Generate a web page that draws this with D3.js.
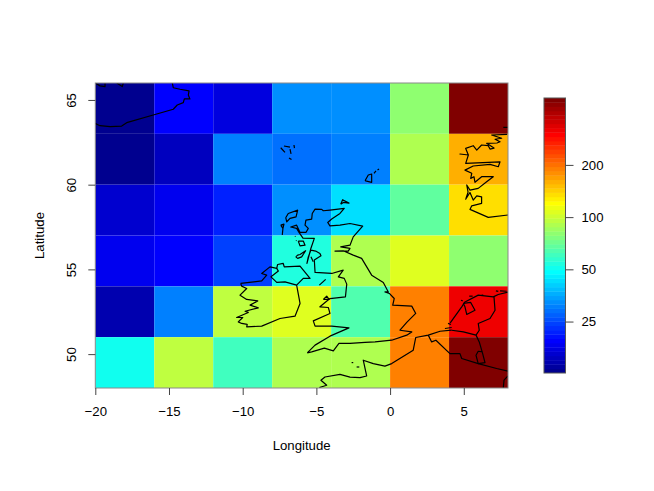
<!DOCTYPE html>
<html>
<head>
<meta charset="utf-8">
<script src="https://cdnjs.cloudflare.com/ajax/libs/d3/7.8.5/d3.min.js"></script>
<style>
  html, body { margin: 0; padding: 0; background: #fff; }
  text { font-family: "Liberation Sans", Arial, sans-serif; font-size: 13.2px; fill: #000; }
</style>
</head>
<body>
<div id="app"></div>
<script>
// grid cell lower-left corners
const lonCells = [-20, -16, -12, -8, -4, 0, 4];
const latCells = [63, 60, 57, 54, 51, 48];

// one row per latCells entry, north to south
const row63 = [13.0, 19.4, 17.3, 32.4, 32.4, 80.6, 473];
const row60 = [13.0, 15.4, 30.6, 28.9, 30.6, 90.4, 160];
const row57 = [16.3, 18.3, 21.7, 32.4, 43.0, 68.0, 135];
const row54 = [18.3, 19.4, 24.3, 54.1, 90.4, 107, 80.6];
const row51 = [14.6, 30.6, 95.7, 107, 64.2, 190, 316];
const row48 = [51.1, 95.7, 60.6, 90.4, 90.4, 190, 473];
const rows = [row63, row60, row57, row54, row51, row48];

const xTicks = [-20, -15, -10, -5, 0, 5];
const yTicks = [50, 55, 60, 65];
const legendTicks = [25, 50, 100, 200];
const zRange = [12.63, 486];

// coastlines, [lon, lat]
const iceland = [[-20.02,63.62],[-19.68,63.48],[-19.0,63.42],[-18.21,63.46],[-17.87,63.66],[-16.07,64.11],[-14.71,64.45],[-14.44,64.70],[-14.03,64.84],[-13.96,65.06],[-13.58,65.06],[-13.69,65.29],[-13.64,65.53],[-14.25,65.63],[-14.71,65.72],[-14.78,66.02]];
const icelandTop1 = [[-20.0,66],[-19.68,65.83],[-19.34,65.79],[-19.34,66]];
const icelandTop2 = [[-18.55,66],[-18.17,65.79],[-18.1,66]];
const faroe1 = [[-7.42,62.18],[-7.13,61.91]];
const faroe2 = [[-7.2,62.28],[-6.79,62.22]];
const faroe3 = [[-6.79,62.10],[-6.72,61.81]];
const faroe4 = [[-6.52,62.34],[-6.49,62.16]];
const faroe5 = [[-6.86,61.57],[-6.69,61.48]];
const shetland1 = [[-1.70,60.23],[-1.48,60.57],[-1.25,60.63],[-1.25,60.14],[-1.59,60.21],[-1.70,60.23]];
const shetland2 = [[-1.09,60.67],[-0.96,60.82]];
const shetland3 = [[-0.85,60.86],[-0.75,60.92]];
const orkney = [[-3.35,58.85],[-3.22,59.11],[-2.79,58.91],[-3.17,58.95],[-3.35,58.85]];
const britain = [[-5.62,50.07],[-5.32,50.13],[-4.46,50.35],[-3.85,50.19],[-3.47,50.63],[-2.72,50.63],[-1.70,50.69],[-1.02,50.72],[0.11,50.82],[1.13,51.12],[1.47,51.31],[0.67,51.41],[1.13,51.87],[1.74,52.40],[1.47,52.83],[0.18,52.89],[0.28,53.28],[-0.05,53.58],[-0.35,53.67],[-0.12,53.67],[-0.46,54.23],[-1.25,54.66],[-1.93,55.65],[-2.50,55.84],[-3.18,56.10],[-3.74,56.08],[-2.84,56.08],[-2.72,56.24],[-3.35,56.33],[-2.72,56.43],[-2.50,56.92],[-1.86,57.55],[-2.72,57.71],[-3.40,57.61],[-4.08,57.57],[-4.23,57.77],[-3.96,57.97],[-3.40,58.30],[-3.11,58.60],[-4.08,58.50],[-4.53,58.46],[-4.64,58.54],[-5.09,58.56],[-5.28,58.30],[-5.32,57.97],[-5.71,57.91],[-5.77,57.61],[-5.55,57.42],[-5.71,57.18],[-6.11,57.18],[-6.34,57.61],[-6.74,57.50],[-6.34,57.42],[-6.18,57.18],[-5.91,56.85],[-5.14,56.83],[-5.37,56.25],[-5.64,55.35],[-5.55,55.74],[-5.37,56.14],[-5.05,56.08],[-4.76,55.94],[-4.69,55.80],[-5.14,55.55],[-5.09,54.82],[-3.96,54.76],[-3.18,54.96],[-3.51,54.56],[-3.11,54.47],[-2.94,54.13],[-3.03,53.38],[-4.08,53.28],[-4.76,52.79],[-4.19,52.75],[-4.08,52.40],[-5.21,51.96],[-5.09,51.65],[-3.96,51.65],[-2.79,51.55],[-4.08,51.06],[-5.09,50.53],[-5.62,50.07]];
const anglesey = [[-4.53,53.23],[-4.30,53.42],[-4.14,53.23],[-4.53,53.23]];
const man = [[-4.80,54.07],[-4.37,54.41]];
const arran = [[-5.37,55.74],[-5.21,55.45]];
const mull = [[-6.23,56.67],[-5.89,56.67],[-5.77,56.43],[-6.11,56.39],[-6.23,56.67]];
const islay = [[-6.40,55.74],[-6.27,55.84],[-6.11,55.88],[-5.73,56.10],[-6.00,55.74],[-6.27,55.65],[-6.40,55.74]];
const tiree = [[-6.45,56.96],[-6.42,56.93]];
const coll = [[-6.38,56.71],[-6.35,56.68]];
const lewis = [[-7.08,58.05],[-6.91,58.30],[-6.27,58.50],[-6.38,58.10],[-6.79,58.01],[-7.01,57.81],[-7.08,58.05]];
const uist = [[-7.42,57.61],[-7.20,57.67],[-7.27,57.42],[-7.31,57.06],[-7.27,57.42],[-7.42,57.61]];
const ireland = [[-10.14,54.17],[-8.71,54.32],[-8.37,54.66],[-8.71,54.76],[-8.15,55.15],[-7.69,55.06],[-7.63,55.29],[-7.25,55.35],[-7.18,55.15],[-6.11,55.19],[-5.43,54.47],[-5.89,54.47],[-6.34,54.07],[-6.11,52.99],[-6.45,52.24],[-7.47,52.10],[-8.71,51.65],[-9.73,51.61],[-9.69,51.75],[-10.07,51.81],[-10.30,51.90],[-10.00,52.16],[-10.41,52.16],[-9.62,52.46],[-9.84,52.53],[-8.94,52.73],[-9.50,52.89],[-8.98,53.14],[-9.73,53.23],[-10.18,53.48],[-9.73,53.87],[-10.07,54.01],[-10.12,54.13],[-10.14,54.17]];
const ulsterBorder = [[-6.34,54.07],[-7.13,54.26],[-7.69,54.23],[-8.08,54.56],[-7.58,54.90],[-7.69,55.06]];
const franceCoast = [[-4.80,48.03],[-4.30,48.16],[-4.69,48.46],[-4.42,48.65],[-3.40,48.80],[-2.72,48.64],[-2.04,48.61],[-1.59,48.71],[-1.82,49.64],[-1.14,49.44],[-0.35,49.29],[0.11,49.44],[1.57,50.23],[1.74,50.98],[2.59,51.12],[3.39,51.35],[4.18,51.41]];
const zeeland1 = [[3.72,51.51],[4.18,51.57]];
const zeeland2 = [[3.93,51.81],[4.13,51.75]];
const hollandCoast = [[4.08,51.84],[4.86,52.79],[5.08,53.08],[5.98,53.48],[7.00,53.38],[7.34,53.52],[8.0,53.66]];
const ijsselmeer = [[4.97,52.99],[5.47,53.05],[5.76,52.59],[5.20,52.34],[5.08,52.79],[4.97,52.99]];
const belgiumNorth = [[4.18,51.41],[4.97,51.31],[5.83,51.12]];
const dutchEast = [[5.83,51.12],[6.05,51.41],[5.98,51.81],[6.78,52.10],[7.12,52.59],[7.05,53.38]];
const belgiumEast = [[5.83,51.12],[6.05,50.72],[6.28,50.03],[6.44,49.50],[5.98,49.44],[5.83,49.93],[5.98,50.17],[6.28,50.13]];
const franceNorth = [[2.59,51.12],[2.82,50.72],[3.11,50.82],[4.06,50.03],[4.74,50.03],[4.86,49.74],[5.98,49.44],[7.23,49.15],[8,48.99]];
const rhine = [[7.68,48],[7.73,48.46],[8,48.71]];
const frisian1 = [[5.37,53.42],[5.60,53.42]];
const frisian2 = [[6.21,53.48],[6.32,53.48]];
const frisian3 = [[7.18,53.73],[7.34,53.70]];
const frisian4 = [[7.46,53.73],[7.91,53.71]];
const frisian5 = [[4.81,53.18],[4.93,53.14]];
const jersey = [[-2.61,49.50],[-2.50,49.50]];
const guernsey = [[-2.27,49.24],[-2.09,49.24]];
const norway = [[7.95,62.97],[6.89,62.93],[7.57,62.74],[7.12,62.68],[7.46,62.53],[7.25,62.46],[6.55,62.44],[7.05,62.16],[6.78,62.10],[6.66,62.30],[6.21,62.34],[5.88,62.04],[5.64,62.30],[5.13,62.14],[5.31,61.75],[4.74,61.81],[5.31,61.75],[5.13,61.26],[7.46,61.35],[7.34,61.06],[6.78,61.20],[5.64,61.10],[5.08,60.86],[5.54,60.67],[5.47,60.37],[5.69,60.47],[5.76,60.14],[6.21,60.47],[7.00,60.47],[6.55,60.17],[5.98,59.78],[5.42,59.68],[5.20,59.98],[5.29,59.56],[5.13,59.15],[5.42,59.54],[5.64,59.09],[5.88,59.34],[6.21,59.28],[6.21,58.90],[5.54,58.75],[5.42,58.54],[6.66,58.07],[8.0,58.21]];
const norwayDash = [[7.68,63.38],[8.0,63.38]];

const coastlines = [iceland, icelandTop1, icelandTop2, faroe1, faroe2, faroe3, faroe4, faroe5,
  shetland1, shetland2, shetland3, orkney, britain, anglesey, man, arran, mull, islay, tiree, coll,
  lewis, uist, ireland, ulsterBorder, franceCoast, zeeland1, zeeland2, hollandCoast, ijsselmeer,
  belgiumNorth, dutchEast, belgiumEast, franceNorth, rhine, frisian1, frisian2, frisian3, frisian4,
  frisian5, jersey, guernsey, norway, norwayDash];

const width = 654, height = 491;
const plot = {left: 95.3, right: 508, top: 83, bottom: 388};
const bar = {left: 544, right: 565.5, top: 98, bottom: 373};

// tim.colors(64) from fields
const levels = 64;
const jet = d3.scaleLinear()
  .domain([0, 7, 23, 39, 55, 63])
  .range(["#00008f", "#0000ff", "#00ffff", "#ffff00", "#ff0000", "#800000"]);
const palette = d3.range(levels).map(i => jet(i));

const x = d3.scaleLinear().domain([-20, 8]).range([plot.left, plot.right]);
const y = d3.scaleLinear().domain([48, 66]).range([plot.bottom, plot.top]);
const zPos = d3.scaleLog().domain(zRange).range([0, 1]);
const color = v => palette[Math.min(levels - 1, Math.floor(zPos(v) * levels))];
const legendY = d3.scaleLog().domain(zRange).range([bar.bottom, bar.top]);

const svg = d3.select("#app").append("svg")
  .attr("width", width)
  .attr("height", height)
  .style("display", "block");

svg.append("clipPath").attr("id", "plot-clip")
  .append("rect")
  .attr("x", plot.left).attr("y", plot.top)
  .attr("width", plot.right - plot.left)
  .attr("height", plot.bottom - plot.top);

// cells
rows.forEach((row, j) => {
  svg.append("g").selectAll("rect")
    .data(row)
    .join("rect")
    .attr("x", (d, i) => x(lonCells[i]))
    .attr("y", y(latCells[j] + 3))
    .attr("width", (d, i) => x(lonCells[i] + 4) - x(lonCells[i]))
    .attr("height", y(latCells[j]) - y(latCells[j] + 3))
    .attr("fill", d => color(d));
});

// coast
const line = d3.line().x(d => x(d[0])).y(d => y(d[1]));
svg.append("g")
  .attr("clip-path", "url(#plot-clip)")
  .selectAll("path")
  .data(coastlines)
  .join("path")
  .attr("d", line)
  .attr("fill", "none")
  .attr("stroke", "#000")
  .attr("stroke-width", 1.2)
  .attr("stroke-linejoin", "round");

// box
svg.append("rect")
  .attr("x", plot.left).attr("y", plot.top)
  .attr("width", plot.right - plot.left)
  .attr("height", plot.bottom - plot.top)
  .attr("fill", "none")
  .attr("stroke", "#8a8a8a");

const xAxis = svg.append("g")
  .attr("transform", "translate(0," + plot.bottom + ")")
  .call(d3.axisBottom(x).tickValues(xTicks).tickSize(7).tickPadding(12));
xAxis.select(".domain").remove();

const yAxis = svg.append("g")
  .attr("transform", "translate(" + plot.left + ",0)")
  .call(d3.axisLeft(y).tickValues(yTicks).tickSize(7).tickFormat(d3.format("d")));
yAxis.select(".domain").remove();
yAxis.selectAll("text")
  .attr("x", 0).attr("y", 0).attr("dy", 0)
  .attr("text-anchor", "middle")
  .attr("transform", "translate(-19.5,0) rotate(-90)");

// colour bar, steps overlap a little so no seams show
const barStep = (bar.bottom - bar.top) / levels;
svg.append("g").selectAll("rect")
  .data(palette)
  .join("rect")
  .attr("x", bar.left)
  .attr("y", (d, i) => bar.bottom - (i + 1) * barStep)
  .attr("width", bar.right - bar.left)
  .attr("height", (d, i) => barStep + (i ? 0.4 : 0))
  .attr("fill", d => d);

svg.append("rect")
  .attr("x", bar.left).attr("y", bar.top)
  .attr("width", bar.right - bar.left)
  .attr("height", bar.bottom - bar.top)
  .attr("fill", "none")
  .attr("stroke", "#555");

const legendAxis = svg.append("g")
  .attr("transform", "translate(" + bar.right + ",0)")
  .call(d3.axisRight(legendY).tickValues(legendTicks).tickSize(8).tickPadding(8).tickFormat(d3.format("d")));
legendAxis.select(".domain").remove();

svg.selectAll(".tick line").attr("stroke", "#444");
svg.selectAll(".tick text")
  .style("font-family", '"Liberation Sans", Arial, sans-serif')
  .style("font-size", "13.2px");

svg.append("text")
  .attr("x", (plot.left + plot.right) / 2)
  .attr("y", 450)
  .attr("text-anchor", "middle")
  .text("Longitude");

svg.append("text")
  .attr("transform", "translate(43.5," + (plot.top + plot.bottom) / 2 + ") rotate(-90)")
  .attr("text-anchor", "middle")
  .text("Latitude");
</script>
</body>
</html>
